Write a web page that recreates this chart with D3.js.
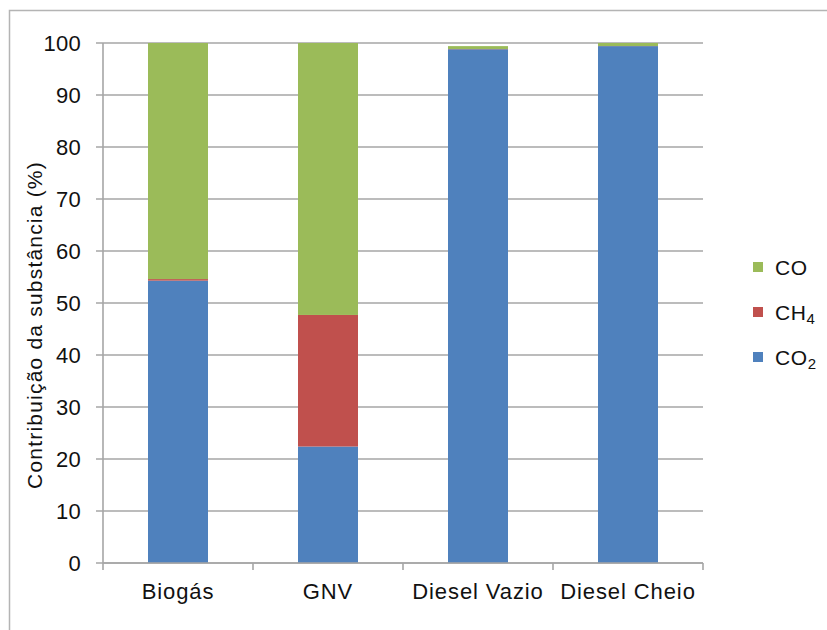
<!DOCTYPE html>
<html>
<head>
<meta charset="utf-8">
<script src="https://cdn.jsdelivr.net/npm/d3@7"></script>
<style>
  html, body { margin: 0; padding: 0; background: #fff; }
  svg { display: block; }
  text { font-family: "Liberation Sans", Arial, sans-serif; fill: #111; }
</style>
</head>
<body>
<svg id="chart" width="827" height="630"></svg>
<script>
// Fuel categories and the share (%) of each emitted substance
const categories = ["Biogás", "GNV", "Diesel Vazio", "Diesel Cheio"];
const co2 = [54.3, 22.4, 98.8, 99.4];
const ch4 = [0.3, 25.3, 0.05, 0.02];
const co  = [45.4, 52.3, 0.55, 0.58];
const yTicks = [0, 10, 20, 30, 40, 50, 60, 70, 80, 90, 100];

const seriesKeys = ["CO2", "CH4", "CO"];
const colors = { CO2: "#4F81BD", CH4: "#C0504D", CO: "#9BBB59" };

const rows = categories.map((c, i) => ({ cat: c, CO2: co2[i], CH4: ch4[i], CO: co[i] }));

const svg = d3.select("#chart");

// outer chart frame
svg.append("rect")
  .attr("x", 9.5).attr("y", 10.5)
  .attr("width", 840).attr("height", 640)
  .attr("fill", "none").attr("stroke", "#b4b4b4").attr("stroke-width", 1.5);

const plot = { left: 103, right: 703, top: 43, bottom: 563 };

const x = d3.scaleBand()
  .domain(categories)
  .range([plot.left, plot.right])
  .paddingInner(0.6)
  .paddingOuter(0.3);

const y = d3.scaleLinear().domain([0, 100]).range([plot.bottom, plot.top]);

// horizontal gridlines
svg.append("g")
  .selectAll("line")
  .data(yTicks)
  .join("line")
  .attr("x1", plot.left - 7).attr("x2", plot.right)
  .attr("y1", d => y(d)).attr("y2", d => y(d))
  .attr("stroke", "#a6a6a6").attr("stroke-width", 1.6);

// y tick labels
svg.append("g")
  .selectAll("text")
  .data(yTicks)
  .join("text")
  .attr("x", 81).attr("y", d => y(d) + 7.5)
  .attr("text-anchor", "end")
  .attr("font-size", 22)
  .style("letter-spacing", "0.3px")
  .text(d => d);

// stacked bars
const stacked = d3.stack().keys(seriesKeys)(rows);
svg.append("g")
  .selectAll("g")
  .data(stacked)
  .join("g")
  .attr("fill", s => colors[s.key])
  .selectAll("rect")
  .data(s => s)
  .join("rect")
  .attr("x", d => x(d.data.cat))
  .attr("width", x.bandwidth())
  .attr("y", d => y(d[1]))
  .attr("height", d => y(d[0]) - y(d[1]));

// y axis line
svg.append("line")
  .attr("x1", plot.left).attr("x2", plot.left)
  .attr("y1", plot.top).attr("y2", plot.bottom)
  .attr("stroke", "#a6a6a6").attr("stroke-width", 1.6);

// x axis with ticks at category boundaries
const xAxis = svg.append("g");
xAxis.append("line")
  .attr("x1", plot.left).attr("x2", plot.right)
  .attr("y1", plot.bottom).attr("y2", plot.bottom)
  .attr("stroke", "#a6a6a6").attr("stroke-width", 1.6);
const boundaries = categories.map(c => x(c) - x.step() * x.paddingOuter()).concat([plot.right]);
xAxis.selectAll("line.tick")
  .data(boundaries)
  .join("line")
  .attr("class", "tick")
  .attr("x1", d => d).attr("x2", d => d)
  .attr("y1", plot.bottom).attr("y2", plot.bottom + 7)
  .attr("stroke", "#a6a6a6").attr("stroke-width", 1.6);
xAxis.selectAll("text")
  .data(categories)
  .join("text")
  .attr("x", d => x(d) + x.bandwidth() / 2)
  .attr("y", 599)
  .attr("text-anchor", "middle")
  .attr("font-size", 22)
  .style("letter-spacing", "0.9px")
  .text(d => d);

// y axis title
svg.append("text")
  .attr("transform", `translate(42, ${(plot.top + plot.bottom) / 2 + 22}) rotate(-90)`)
  .attr("text-anchor", "middle")
  .attr("font-size", 21)
  .style("letter-spacing", "1.2px")
  .text("Contribuição da substância (%)");

// legend (top entry = top of stack)
const legendItems = [
  { key: "CO", base: "CO", sub: "" },
  { key: "CH4", base: "CH", sub: "4" },
  { key: "CO2", base: "CO", sub: "2" }
];
const legend = svg.append("g")
  .selectAll("g")
  .data(legendItems)
  .join("g")
  .attr("transform", (d, i) => `translate(753, ${267 + i * 45})`);
legend.append("rect")
  .attr("x", 0).attr("y", -5)
  .attr("width", 10).attr("height", 10)
  .attr("fill", d => colors[d.key]);
const lt = legend.append("text")
  .attr("x", 22).attr("y", 8)
  .attr("font-size", 21)
  .style("letter-spacing", "0.6px");
lt.append("tspan").text(d => d.base);
lt.append("tspan")
  .attr("font-size", 15)
  .attr("dy", 4)
  .text(d => d.sub);
</script>
</body>
</html>
